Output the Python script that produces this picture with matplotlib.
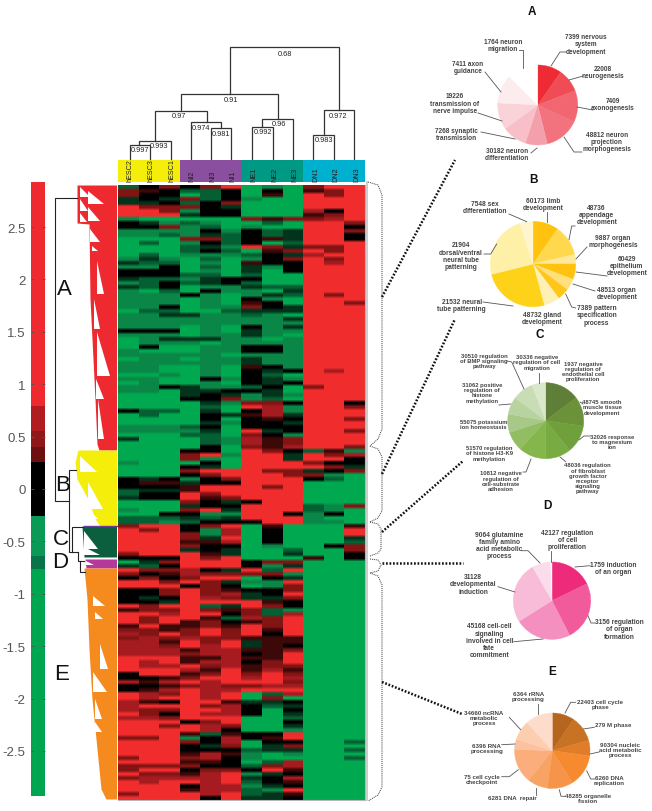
import numpy as np
from matplotlib import pyplot as plt
from matplotlib.colors import ListedColormap, BoundaryNorm

W = 652
H = 812
plt.rcParams['font.family'] = ['Liberation Sans', 'DejaVu Sans']

SAMPLES = ['hESC2', 'hESC3', 'hESC1', 'NI2', 'NI3', 'NI1', 'NE1', 'NE2', 'NE3', 'DN1', 'DN2', 'DN3']
GROUP_COLORS = ['#f4ee0a', '#8a4f9e', '#009a84', '#00b0cf']

# heat map rows, one letter per sample, see LEVELS
HEAT_ROWS = [
    'dkm kmr GgG mrr', 'mnk ddk GkG nmr', 'mkk Gdk GnG rmr', 'xkx mdk gGG rrr', 'xxk dkm GGG rrr',
    'rmm mkx GGG rrr', 'rrm gkk GGG Mkr', 'rrr xkk GGG nmr', 'gGG GGG mnm mMr', 'kxg dgG GdG rrm',
    'kkm gdG gGG rrk', 'ggg gkg kdx rrm', 'ggd gxd kdx rrk', 'GGG mmd knx rrk', 'GdG gkd kGd rrr',
    'GGG dxg rmx mmr', 'GGG dkd Gnm rmr', 'GdG ggg dkx Mrr', 'gxg GdG gkm rmr', 'xdd GgG nkk rMr',
    'ggk GdG xgk rrr', 'kkk GgG xGk rrr', 'kkk ddG dGG rrr', 'xdd gxk kGG rrr', 'gdk dxk dGG rrr',
    'xdk Ggg xdd rrr',
    'gGd Gkg gGx rrr', 'ggg kgG gxd rmr', 'ggg GgG kgG rrr', 'ggg GgG nkG rrm', 'ggk Ggg mkx rrr',
    'Gdd GGd xxx rrr', 'ggx xgg dgG rrr', 'ggg ggg ggx rrr', 'ggg ggg ggg rrr', 'ggg GgG kgx rrr',
    'kkk GgG xgg rrr', 'ggg Ggg xgG rrr', 'Ggx xxg gGg rrr', 'Ggg gGg ggg rrr', 'GkG Ggg kkg rrr',
    'gGG Ggg kkg rrr', 'ggg ggG ggg rrr', 'Ggg Ggg xgg rrr', 'ggg ggg xgg rrr', 'ggG GgG nkg rrr',
    'ggG GgG kxk rMr', 'GGg GgG kdG rrr', 'ggG Gkg kxg rrr', 'GgG GgG kxk rrr', 'ggk xgg dkG mrr',
    'ggG xxk kxG rrr',
    'GGG xkx gxg rrr', 'GGG kkm gdG rrr', 'GGG Gxg mmk rrk', 'GGG GdG rMg rrm', 'kdd GxG kMg rrr',
    'GdG Gkx nMx rrr', 'GGG GkG knk rrm', 'GGG Gxg kkx rrr', 'ggg dkG kkk rrr', 'ggg gxG rxk rrm',
    'GGG ddG mkg rrr', 'xGG Gdg Mnm rrr', 'GGG Gdg Mnm rrr', 'GGG GkG mnM rrm', 'GGG kkG rmk dng',
    'GGG mrg rrx rmM', 'GGG mgG rrx rrk', 'gGG GkG rrr mkk', 'GGG kxG rrr rmx', 'GGG mrr rmm xkm',
    'GGG kmr rrm mgG', 'kxk gkm rrr kdG', 'knn xkk rrr GGG', 'kkk nrr rmr GGG', 'dxx nrr rrr GGG',
    'dkk rmr rrr GGG',
    'xkk rnm rrr GGG', 'GGG mkx krr GGG', 'GGG xkk rrr dgm', 'gGG mrx rrr dgG', 'GGk kgg rrk gkG',
    'ddd xdx rrr gGG', 'ddg dkk krr ggG', 'mrr kmr GnG GGn', 'rmr kgM GkG GGr', 'rrr mgM GkG GGr',
    'rrr mxr GkG GGx', 'rrr nnM GkG GGd', 'rrr mkk GgG Gkm', 'rrr xkx GGd GGm', 'mrr rnx GGx GGk',
    'kkk rmr GGG nGk', 'Gxm rrr kmm GGG', 'xdk rrr kgx GGG', 'rmm Mkx rdr GGG', 'mkn Mmm mmg GGG',
    'kmk mrr Gkx GGG', 'rrm rmx ggr GGG', 'rrr kmk Ggm GGG', 'kkm rmn kkm GGG', 'kkm rmM xkr GGG',
    'kxk rMm xxm GGG',
    'kkx rrr rnk GGG', 'rmr rdx rmk GGG', 'nmm rmn mdg GGG', 'rrM rrk mdM GGG', 'rmr rnd Mmr GGG',
    'rmr nmk nmr GGG', 'nrn nmn rmr GGG', 'mmn mrm rnr GGG', 'Mmr mrm rkr GGG', 'mMm Mmm nnn GGG',
    'MMn rmr xnn GGG', 'MMm rMr xnk GGG', 'MMM nMM nnm GGG', 'MMM mMM knr GGG', 'rrr nnM nnr GGG',
    'rMr nMM kmr GGG', 'rMM rmM nmm GGG', 'rrr Mnr nMn GGG', 'krr nmr mrm GGG', 'kkn mrr MrM GGG',
    'MnM rMr rrm GGG', 'kkn mMm mMM GGG', 'knM rMM rrr GGG', 'rMm rMr GdM GGG', 'rMr rMr GmG GGG',
    'Mnk rrn xxk GGG',
    'Mrr rmM kdx GGG', 'Mmm rrM kGk GGG', 'rmk rMM kGx GGG', 'MMm rrr GGd GGG', 'rrr kmr GGk GGG',
    'rrm rMm GGx GGG', 'rrr rMk GGg GGG', 'rrr ndn kkr GGG', 'mmr gkM knr GGG', 'rrr mkM Gkk GGd',
    'rrr kxm Gxm GGG', 'rrr kkk dxx GGd', 'rrr nMn gGg GGG', 'mrr mMk gGG GGd', 'rrr nnk GdM GGG',
    'mmm mkk dmM GGG', 'mrr kmm krn GGG', 'rmm nMr gxk GGG', 'mMM MMr xkM GGG', 'rMr rMr dkn GGG',
    'rrr kMM gxk GGG', 'rrr nMM dgr GGG', 'mrr rMr dxn GGG', 'rrr rkr xxk GGG',
]
# what each letter stands for on the colour bar scale
LEVELS = {'G': -2.0, 'g': -1.0, 'd': -0.6, 'x': -0.3, 'k': 0.0, 'n': 0.3, 'm': 0.5, 'M': 0.7, 'r': 1.5}
HEAT_BOUNDS = [-3, -1.5, -0.8, -0.45, -0.15, 0.15, 0.4, 0.6, 0.9, 3]
HEAT_COLORS = ['#00a850', '#0a8747', '#045f33', '#02331c', '#000000', '#3c0808', '#821414', '#a51c20', '#f02d2d']

BAR_EDGES = [-2.93, -0.76, -0.64, -0.26, 0.26, 0.40, 0.55, 0.79, 2.93]
BAR_VALUES = [-2, -0.7, -0.45, 0, 0.33, 0.47, 0.67, 2]
BAR_BOUNDS = [-3, -1, -0.6, -0.2, 0.2, 0.4, 0.6, 0.9, 3]
BAR_COLORS = ['#00a64f', '#07744a', '#0a9a55', '#000000', '#6e1010', '#8f1818', '#b01c20', '#ee2a30']
BAR_TICKS = [2.5, 2, 1.5, 1, 0.5, 0, -0.5, -1, -1.5, -2, -2.5]
BAR_TICK_LABELS = ['2.5', '2', '1.5', '1', '0.5', '0', '-0.5', '-1', '-1.5', '-2', '-2.5']

# sample tree: x0, x1, top, left foot, right foot
COL_TREE = [
    (130, 150, 146, 160, 160), (139, 170.5, 141.5, 146, 160),
    (211, 231, 128.5, 160, 160), (190.5, 221, 123, 160, 128.5),
    (155, 206.5, 111.5, 141.5, 123),
    (252, 272.5, 127.5, 160, 160), (262, 293, 120, 127.5, 160),
    (180.5, 277.5, 95, 111.5, 120),
    (313, 333.5, 135.5, 160, 160), (323.5, 354, 110.5, 135.5, 160),
    (229.5, 339, 47.5, 95, 110.5),
]
COL_TREE_LABELS = [
    ('0.997', 140, 150.5), ('0.993', 158.5, 146.5), ('0.981', 221, 135), ('0.974', 201.5, 129),
    ('0.97', 178.5, 116.5), ('0.992', 263.5, 132.5), ('0.96', 279, 124.5), ('0.91', 231, 100),
    ('0.983', 324, 141), ('0.972', 338, 116.5), ('0.68', 284.5, 54),
]

# row tree trunk lines
ROW_TRUNK = [
    ([77, 54.5, 54.5, 69], [199, 199, 502, 502]),
    ([76, 69, 69, 72], [471, 471, 553, 553]),
    ([83, 72, 72, 78], [528, 528, 553, 553]),
    ([78, 78, 84], [553, 562, 562]),
    ([80, 80, 85], [562, 573, 573]),
]
# cluster envelopes: left edge of the solid block down the rows
CLUSTERS = {
    'A': dict(color='#ee2a30', y=[186, 224, 225, 300, 340, 400, 445, 451], x=[77, 77, 89, 90, 92, 95, 97, 99]),
    'B': dict(color='#f4ee0a', y=[451, 463, 480, 500, 520, 527], x=[78, 75, 77, 88, 95, 100]),
    'C': dict(color='#0b5f3e', y=[527, 558], x=[82, 84]),
    'D': dict(color='#b5399b', y=[560, 569], x=[85, 86]),
    'E': dict(color='#f58a1f', y=[569, 600, 650, 700, 750, 790, 800], x=[84, 87, 89, 92, 97, 101, 106]),
}
# white gaps of the row tree: left, top, bottom, right
TREE_GAPS = [
    (80, 188, 198, 90), (88, 192, 205, 104), (80, 200, 212, 88), (88, 208, 222, 100), (80, 214, 223, 87),
    (90, 230, 243, 100), (92, 247, 252, 98), (97, 262, 295, 104),
    (94, 300, 330, 100), (97, 333, 377, 110), (96, 380, 400, 104), (98, 400, 440, 104),
    (80, 457, 473, 97), (88, 483, 510, 103), (90, 512, 520, 98),
    (84, 532, 550, 98), (84, 548, 556, 100), (86, 562, 566, 94),
    (93, 597, 607, 105), (95, 613, 620, 103), (100, 645, 670, 108), (93, 673, 693, 107),
    (95, 700, 720, 102), (95, 723, 733, 102),
]
CLUSTER_NAMES = [('A', 64, 290), ('B', 62.5, 486), ('C', 61, 540), ('D', 60, 563), ('E', 62, 675)]

BRACKETS = [
    ([368, 378, 382, 382, 378, 370], [183, 186, 196, 430, 440, 447]),
    ([370, 378, 382, 382, 378, 370], [447, 450, 458, 512, 519, 523]),
    ([370, 378, 381, 381, 378, 370], [523, 525, 530, 550, 554, 557]),
    ([370, 378, 381, 378, 370], [560, 561, 566, 572, 574]),
    ([370, 378, 382, 382, 378, 368], [574, 577, 586, 788, 796, 802]),
]
LINKS = [
    ([382, 455], [298, 161]),
    ([382, 455], [475, 320]),
    ([382, 463], [533, 462]),
    ([382, 463], [564, 564]),
    ([382, 462], [683, 715]),
]

PIE_TITLES = [('A', 531.7, 11.7), ('B', 533, 180), ('C', 540, 335), ('D', 547.7, 505.7), ('E', 551.7, 672)]

PIE_A = [35, 34, 46, 51, 32, 36, 39, 42, 45]
PIE_B = [35, 42, 13, 21, 16, 16, 22, 91, 86, 18]
PIE_C = [53, 45, 43, 39, 42, 30, 28, 27, 32, 21]
PIE_D = [64, 89, 85, 92, 28, 2]
PIE_E = [34, 40, 24, 50, 40, 31, 53, 16, 30, 42]

PIE_A_COLORS = ['#ee2b34', '#ef4c55', '#f16670', '#f2727e', '#f4a0ac', '#f8bfc8', '#fad3d9', '#fdecee', '#ffffff']
PIE_B_COLORS = ['#ffc20e', '#ffd84d', '#ffe89a', '#ffc20e', '#ffe07a', '#ffc61a', '#fff0b5', '#ffd21a', '#fff0a8', '#fff6d0']
PIE_C_COLORS = ['#5f7f38', '#6b9239', '#6fa03c', '#78ab42', '#85b64c', '#92bd63', '#a7c887', '#b9d3a0', '#c8dcb5', '#d9e7ca']
PIE_D_COLORS = ['#ee2a7b', '#f15a9b', '#f48fbf', '#f8bcd8', '#fbdcea', '#ffffff']
PIE_E_COLORS = ['#b5651d', '#c87224', '#e07d28', '#f58a2f', '#f69449', '#f7a364', '#fbae7c', '#fcc2a0', '#fdcdb0', '#fedccb']

# centre x, centre y, radius in pixels
PIE_PLACES = [(537.7, 106, 40), (533, 265, 42.7), (545.7, 421.7, 38), (552, 601.7, 38.7), (552.3, 751.7, 37.7)]

GO_LABELS = [
    ('7399 nervous\nsystem\ndevelopment', 585.7, 45), ('22008\nneurogenesis', 603, 72.7),
    ('7409\naxonogenesis', 613, 105), ('48812 neuron\nprojection\nmorphogenesis', 606.7, 142.7),
    ('30182 neuron\ndifferentiation', 507, 155), ('7268 synaptic\ntransmission', 456.7, 134.7),
    ('19226\ntransmission of\nnerve impulse', 455, 104), ('7411 axon\nguidance', 468, 67.7),
    ('1764 neuron\nmigration', 503, 45.7),
    ('60173 limb\ndevelopment', 542.7, 205), ('48736\nappendage\ndevelopment', 596.7, 215.7),
    ('9887 organ\nmorphogenesis', 613, 242), ('60429\nepithelium\ndevelopment', 626.7, 266.7),
    ('48513 organ\ndevelopment', 616.7, 294), ('7389 pattern\nspecification\nprocess', 596.7, 316),
    ('48732 gland\ndevelopment', 542.3, 319.3), ('21532 neural\ntube patterning', 461.7, 305.7),
    ('21904\ndorsal/ventral\nneural tube\npatterning', 461, 256.7), ('7548 sex\ndifferentiation', 485, 208),
    ('30510 regulation\nof BMP signaling\npathway', 484, 361.7), ('30336 negative\nregulation of cell\nmigration', 537, 363),
    ('1937 negative\nregulation of\nendothelial cell\nproliferation', 583, 372),
    ('48745 smooth\nmuscle tissue\ndevelopment', 602, 408), ('32026 response\nto magnesium\nion', 611.7, 442.7),
    ('48036 regulation\nof fibroblast\ngrowth factor\nreceptor\nsignaling\npathway', 587.7, 479),
    ('10812 negative\nregulation of\ncell-substrate\nadhesion', 501, 481.7),
    ('51570 regulation\nof histone H3-K9\nmethylation', 489.3, 454),
    ('55075 potassium\nion homeostasis', 483.3, 425),
    ('31062 positive\nregulation of\nhistone\nmethylation', 481.7, 393.3),
    ('9064 glutamine\nfamily amino\nacid metabolic\nprocess', 499.3, 546),
    ('42127 regulation\nof cell\nproliferation', 567.3, 540.7), ('1759 induction\nof an organ', 613.3, 568.7),
    ('3156 regulation\nof organ\nformation', 619, 630),
    ('45168 cell-cell\nsignaling\ninvolved in cell\nfate\ncommitment', 489.3, 641.3),
    ('31128\ndevelopmental\ninduction', 473.3, 585),
    ('6364 rRNA\nprocessing', 528.3, 696.7), ('22403 cell cycle\nphase', 600, 705), ('279 M phase', 613.3, 725.7),
    ('90304 nucleic\nacid metabolic\nprocess', 620, 750.3), ('6260 DNA\nreplication', 609.3, 781),
    ('48285 organelle\nfission', 588.3, 798.7), ('6281 DNA  repair', 512.3, 799),
    ('75 cell cycle\ncheckpoint', 482.3, 780), ('6396 RNA\nprocessing', 486.7, 749),
    ('34660 ncRNA\nmetabolic\nprocess', 484, 718.3),
]
# text size of the labels, pie by pie
LABEL_SIZES = [4.7] * 9 + [4.8] * 10 + [4.2] * 10 + [4.8] * 6 + [4.4] * 10
LEADERS = [
    ([566, 560, 551], [53, 53, 67]), ([583, 569], [77, 81]), ([593, 577], [111, 108]),
    ([582, 574, 564], [153, 153, 138]), ([531, 537], [154, 149]), ([481, 515], [133, 140]),
    ([478, 502], [114, 122]), ([485, 501], [73, 93]), ([519, 523, 523], [51, 51, 69]),
    ([547.3, 547.3], [213, 223]), ([575, 571.7, 569], [227, 227, 240.7]), ([587, 576], [248, 260]),
    ([607, 576], [277, 273]), ([595, 573], [292, 285]), ([575.7, 571.7, 565.7], [309, 308, 295]),
    ([483, 513], [303, 307]), ([484, 490.7, 496.7], [255, 255, 245]), ([509, 526.7], [215, 222.7]),
    ([507, 511.7, 524], [362, 363, 390]), ([539, 539], [374, 384]), ([583, 580], [405, 403]),
    ([590, 584, 579], [437, 437, 441]), ([565.7, 560], [462.7, 458]), ([523, 526, 531], [473, 473, 460]),
    ([499, 510.7], [406, 405]),
    ([521.7, 528, 540], [551.7, 551.7, 564]), ([550.7, 550.7], [551.7, 563]), ([590, 575], [566.7, 568]),
    ([595, 591, 588], [624, 624, 616.7]), ([514, 543], [642.7, 640]), ([498, 515], [587.7, 593]),
    ([538.3, 538.3], [705, 715]), ([575.7, 570.7, 565], [703.3, 703.3, 714]), ([594.3, 583.3], [728.3, 730]),
    ([599, 590], [753, 755]), ([595, 590.7, 586.7], [780, 780, 771.7]), ([565, 561, 559.3], [797.3, 797.3, 790.7]),
    ([536, 536], [796, 789.3]), ([501.7, 509.3, 518.3], [777.7, 777.7, 770.7]), ([501.7, 515], [745.7, 745]),
    ([509.3, 520.7], [718.3, 730.7]),
]


def px_axes(x0, y0, x1, y1):
    return fig.add_axes([x0 / W, 1 - y1 / H, (x1 - x0) / W, (y1 - y0) / H])


fig = plt.figure(figsize=(W / 100, H / 100), dpi=100)

# heat map, rows softened a bit because the source scan is blurred
heat = np.array([[LEVELS[c] for c in row.replace(' ', '')] for row in HEAT_ROWS])
heat_cmap = ListedColormap(HEAT_COLORS)
heat_rgb = heat_cmap(BoundaryNorm(HEAT_BOUNDS, len(HEAT_COLORS))(heat))[:, :, :3]
heat_rgb = np.repeat(heat_rgb, 4, axis=0)
kernel = np.ones(3) / 3
heat_rgb = np.apply_along_axis(lambda col: np.convolve(col, kernel, mode='same'), 0, heat_rgb)
heat_rgb[[0, -1]] = heat_rgb[[1, -2]]
ax_heat = px_axes(118, 186, 365, 801)
ax_heat.imshow(heat_rgb, aspect='auto', interpolation='nearest')
ax_heat.set_xticks([])
ax_heat.set_yticks([])
for name in ['top', 'left']:
    ax_heat.spines[name].set_visible(False)
for name in ['bottom', 'right']:
    ax_heat.spines[name].set_color('#b8b8b8')

# group strip above the heat map
ax_strip = px_axes(118, 160.5, 365, 183)
ax_strip.imshow([[0, 0, 0, 1, 1, 1, 2, 2, 2, 3, 3, 3]], aspect='auto', interpolation='nearest',
                cmap=ListedColormap(GROUP_COLORS), vmin=0, vmax=3)
ax_strip.axis('off')
for i, name in enumerate(SAMPLES):
    ax_strip.text(i + 0.1, 0.45, name, rotation=90, ha='center', va='bottom', fontsize=5.2, color='#222222')

# colour bar
ax_bar = px_axes(31, 183, 45, 797)
ax_bar.pcolormesh([0, 1], BAR_EDGES, np.array(BAR_VALUES).reshape(-1, 1), cmap=ListedColormap(BAR_COLORS),
                  norm=BoundaryNorm(BAR_BOUNDS, len(BAR_COLORS)))
ax_bar.set_xticks([])
ax_bar.set_yticks(BAR_TICKS)
ax_bar.set_yticklabels(BAR_TICK_LABELS, fontsize=9.5, color='#555555')
ax_bar.tick_params(axis='y', direction='in', length=2, width=0.6, color='#555555', pad=4, right=True)
for spine in ax_bar.spines.values():
    spine.set_visible(False)

# pies
pies = [PIE_A, PIE_B, PIE_C, PIE_D, PIE_E]
pie_colors = [PIE_A_COLORS, PIE_B_COLORS, PIE_C_COLORS, PIE_D_COLORS, PIE_E_COLORS]
for values, colors, (cx, cy, r) in zip(pies, pie_colors, PIE_PLACES):
    ax_pie = px_axes(cx - r * 1.05, cy - r * 1.05, cx + r * 1.05, cy + r * 1.05)
    wedges, _ = ax_pie.pie(values, colors=colors, startangle=90, counterclock=False)
    for wedge, color in zip(wedges, colors):
        wedge.set_edgecolor(color)
        wedge.set_linewidth(0.3)
    ax_pie.set_xlim(-1.05, 1.05)
    ax_pie.set_ylim(-1.05, 1.05)

# everything else sits on an overlay measured in pixels
ax = fig.add_axes([0, 0, 1, 1], zorder=5)
ax.set_xlim(0, W)
ax.set_ylim(H, 0)
ax.axis('off')

for x0, x1, top, foot0, foot1 in COL_TREE:
    ax.plot([x0, x0, x1, x1], [foot0, top, top, foot1], color='#333333', lw=0.9, solid_joinstyle='miter')
for text, x, y in COL_TREE_LABELS:
    ax.text(x, y, text, ha='center', va='center', fontsize=5.3, color='#222222')

ax.plot([367, 367], [183, 801], color='#c4c4c4', lw=1.2)

for name in CLUSTERS:
    cluster = CLUSTERS[name]
    ax.fill_betweenx(cluster['y'], cluster['x'], 116.5, color=cluster['color'], lw=0)
ax.plot([84, 116.5], [526.5, 526.5], color='#6a3d9a', lw=1)
for left, top, bottom, right in TREE_GAPS:
    ax.fill([left, left, right], [top, bottom, bottom], color='white', lw=0)
for xs, ys in ROW_TRUNK:
    ax.plot(xs, ys, color='#222222', lw=0.8, solid_joinstyle='miter')
for text, x, y in CLUSTER_NAMES:
    ax.text(x, y, text, ha='center', va='center', fontsize=16, color='#111111')

for xs, ys in BRACKETS:
    ax.plot(xs, ys, color='#333333', lw=0.7, ls=(0, (1, 1)))
for xs, ys in LINKS:
    ax.plot(xs, ys, color='#111111', lw=1.8, ls=(0, (0.7, 0.7)))

for text, x, y in PIE_TITLES:
    ax.text(x, y, text, ha='center', va='center', fontsize=8.5, fontweight='bold', color='#111111')
for (text, x, y), size in zip(GO_LABELS, LABEL_SIZES):
    ax.text(x, y, text, ha='center', va='center', fontsize=size, fontweight='bold', color='#444444', linespacing=1.05)
for xs, ys in LEADERS:
    ax.plot(xs, ys, color='#555555', lw=0.6)

fig.savefig('out.png', dpi=100, facecolor='white')
